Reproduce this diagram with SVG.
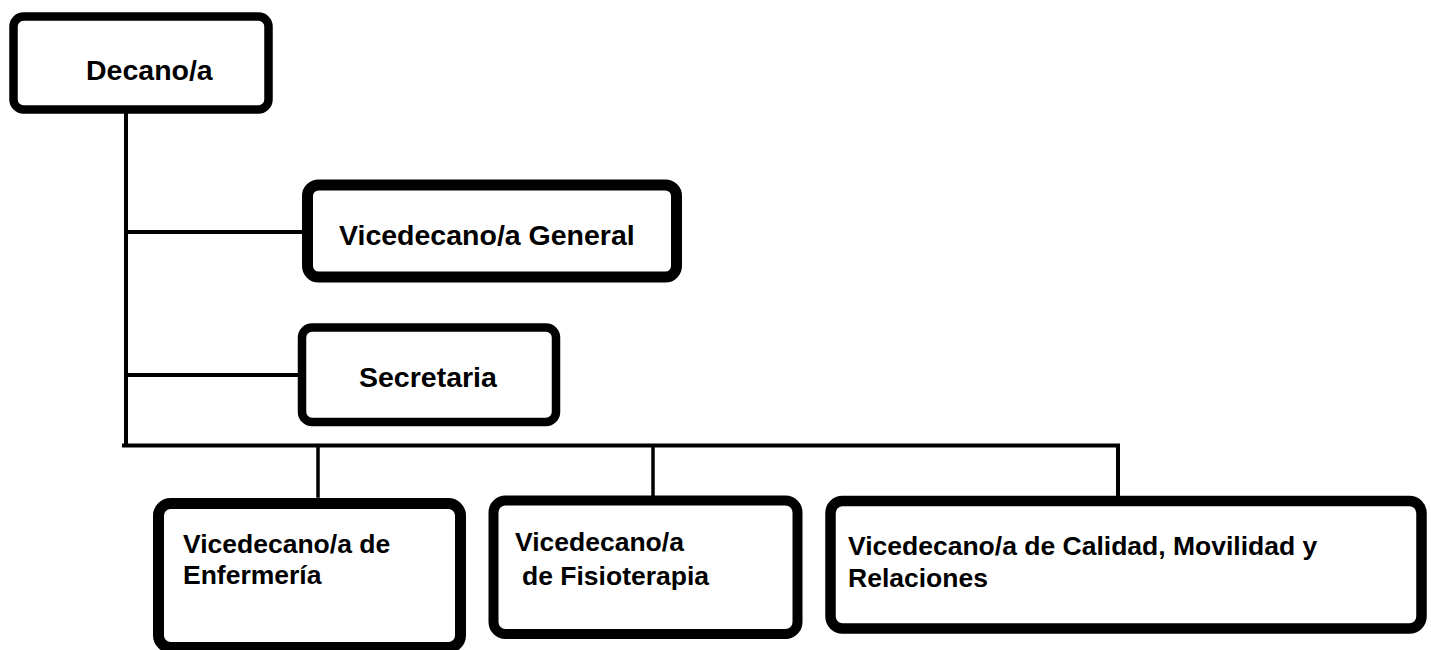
<svg xmlns="http://www.w3.org/2000/svg" width="1431" height="650" viewBox="0 0 1431 650">
<style>
.box{fill:#fff;stroke:#000;stroke-linejoin:round}
.t{font-family:"Liberation Sans",Arial,sans-serif;font-weight:bold;fill:#000}
.top{font-size:28.5px}
.bot{font-size:26.5px}
.ln{stroke:#000;fill:none;stroke-linecap:square}
</style>
<rect width="1431" height="650" fill="#fff"/>
<g id="connectors">
<line class="ln" x1="126" y1="112" x2="126" y2="445" stroke-width="4"/>
<line class="ln" x1="126" y1="232" x2="302" y2="232" stroke-width="4"/>
<line class="ln" x1="126" y1="375" x2="298" y2="375" stroke-width="4"/>
<polyline class="ln" points="124,445.5 1118,445.5 1118,495" stroke-width="4" stroke-linecap="butt"/>
<line class="ln" x1="318" y1="447" x2="318" y2="496" stroke-width="3.5" stroke-linecap="butt"/>
<line class="ln" x1="653" y1="447" x2="653" y2="496" stroke-width="3.5" stroke-linecap="butt"/>
</g>
<g id="decano">
<rect class="box" x="13.5" y="16.5" width="255" height="93" rx="10" stroke-width="8.5"/>
<text class="t top" x="86" y="80">Decano/a</text>
</g>
<g id="vicedecano-general">
<rect class="box" x="307.5" y="185" width="369" height="92" rx="11" stroke-width="11"/>
<text class="t top" x="339" y="245">Vicedecano/a General</text>
</g>
<g id="secretaria">
<rect class="box" x="302" y="327.5" width="254" height="94.5" rx="10" stroke-width="8.5"/>
<text class="t top" x="359" y="387">Secretaria</text>
</g>
<g id="enfermeria">
<rect class="box" x="158.5" y="503.5" width="302" height="144" rx="12" stroke-width="11"/>
<text class="t bot" x="183" y="553">Vicedecano/a de</text>
<text class="t bot" x="183" y="584">Enfermería</text>
</g>
<g id="fisioterapia">
<rect class="box" x="493.5" y="500.5" width="304" height="133.5" rx="12" stroke-width="10"/>
<text class="t bot" x="515" y="551">Vicedecano/a</text>
<text class="t bot" x="522" y="585">de Fisioterapia</text>
</g>
<g id="calidad">
<rect class="box" x="830.5" y="501" width="591" height="127.5" rx="12" stroke-width="10.5"/>
<text class="t bot" x="848" y="555">Vicedecano/a de Calidad, Movilidad y</text>
<text class="t bot" x="848" y="587">Relaciones</text>
</g>
</svg>
